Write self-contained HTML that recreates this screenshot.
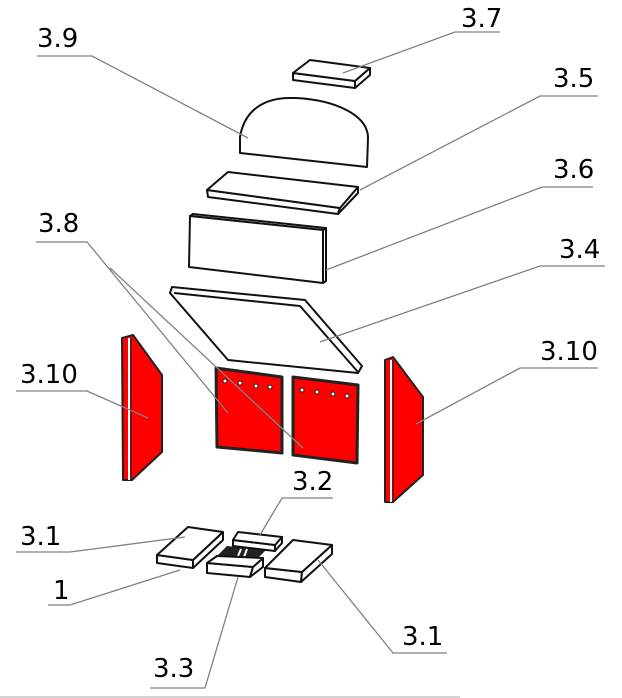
<!DOCTYPE html>
<html><head><meta charset="utf-8"><style>
html,body{margin:0;padding:0;background:#fff;}
svg{display:block;}
text{font-family:"DejaVu Sans","Liberation Sans",sans-serif;font-size:26px;fill:#000;}
.l{stroke:#808080;stroke-width:1.3;fill:none;}
.s{stroke:#111;stroke-width:2;fill:#fff;stroke-linejoin:round;}
.r{stroke:#222;stroke-width:2;fill:#f00;stroke-linejoin:round;}
</style></head><body>
<svg width="622" height="698" viewBox="0 0 622 698" xmlns="http://www.w3.org/2000/svg">
<polygon class="s" points="293,73 355,81 355,88 293,80"/>
<polygon class="s" points="370,68 370,75 355,88 355,81"/>
<polygon class="s" points="310,60 370,68 355,81 293,73"/>
<path class="s" d="M240,153 L240,137 C244,112 262,98 290,98 L296,98 C335,100 368,115 368,138 L367,167 Z"/>
<polygon class="s" points="207,190 340,208 338,214 208,197"/>
<polygon class="s" points="358,187 358,193 338,214 340,208"/>
<polygon class="s" points="228,172 358,187 340,208 207,190"/>
<polygon class="s" points="190,216 193,214 326,228 323,230"/>
<polygon class="s" points="323,230 326,228 326,281 323,283"/>
<polygon class="s" points="190,216 323,230 323,283 189,267"/>
<polygon class="s" points="172,287 305,300 362,366 358,373 228,360 170,293"/>
<polyline class="s" style="fill:none" points="174,293 300,306 358,372"/>
<polygon class="r" points="122,338 133,335 162,375 162,452 132,480 123,480"/>
<line x1="129" y1="338" x2="129" y2="480" stroke="#fff" stroke-width="2"/>
<line x1="131" y1="338" x2="131" y2="480" stroke="#222" stroke-width="1.2"/>
<polygon class="r" points="216,368 282,377 282,453 217,447" style="stroke-width:3"/>
<polygon class="r" points="293,377 358,385 357,463 293,455" style="stroke-width:3"/>
<g fill="#fff" stroke="#222" stroke-width="1">
<circle cx="225" cy="381" r="2"/><circle cx="240" cy="383" r="2"/><circle cx="256" cy="386" r="2"/><circle cx="270" cy="387" r="2"/>
<circle cx="302" cy="390" r="2"/><circle cx="317" cy="392" r="2"/><circle cx="333" cy="394" r="2"/><circle cx="347" cy="396" r="2"/>
</g>
<polygon class="r" points="385,360 393,357 423,397 423,475 393,502 385,502"/>
<line x1="391" y1="360" x2="391" y2="502" stroke="#fff" stroke-width="2"/>
<line x1="393" y1="360" x2="393" y2="502" stroke="#222" stroke-width="1.2"/>
<polygon class="s" points="157,555 193,560 193,568 157,563"/>
<polygon class="s" points="223,532 223,540 193,568 193,560"/>
<polygon class="s" points="188,527 223,532 193,560 157,555"/>
<polygon points="227,546 266,550 257,559 217,556" fill="#222"/>
<line x1="241" y1="549" x2="238" y2="556" stroke="#fff" stroke-width="2"/>
<line x1="247" y1="549" x2="244" y2="557" stroke="#fff" stroke-width="2"/>
<polygon class="s" points="233,540 275,545 275,551 233,546"/>
<polygon class="s" points="282,537 282,543 275,551 275,545"/>
<polygon class="s" points="238,532 282,537 275,545 233,540"/>
<polygon class="s" points="207,563 253,567 250,577 207,573"/>
<polygon class="s" points="263,558 263,567 250,577 253,567"/>
<polygon class="s" points="217,556 263,558 253,567 207,563"/>
<polygon class="s" points="265,568 302,572 301,582 265,577"/>
<polygon class="s" points="332,545 332,554 301,582 302,572"/>
<polygon class="s" points="293,540 332,545 302,572 265,568"/>
<polyline class="l" points="500,32 455,32 343,73"/>
<polyline class="l" points="37,56 92,56 248,138"/>
<polyline class="l" points="598,96 540,96 360,190"/>
<polyline class="l" points="593,187 542,187 326,270"/>
<polyline class="l" points="36,242 87,242 228,413"/>
<line class="l" x1="110" y1="268" x2="303" y2="448"/>
<polyline class="l" points="605,266 540,266 320,342"/>
<polyline class="l" points="16,391 87,391 148,418"/>
<polyline class="l" points="598,368 520,368 416,424"/>
<polyline class="l" points="333,498 282,498 260,535"/>
<polyline class="l" points="16,552 70,552 185,537"/>
<polyline class="l" points="48,605 70,605 180,570"/>
<polyline class="l" points="150,688 205,688 238,577"/>
<polyline class="l" points="447,653 393,653 318,560"/>
<line x1="0" y1="697" x2="460" y2="697" stroke="#aaa" stroke-width="1"/>
<text x="461" y="27">3.7</text>
<text x="37" y="47">3.9</text>
<text x="553" y="87">3.5</text>
<text x="553" y="178">3.6</text>
<text x="38" y="232">3.8</text>
<text x="559" y="258">3.4</text>
<text x="20" y="383">3.10</text>
<text x="540" y="360">3.10</text>
<text x="292" y="490">3.2</text>
<text x="20" y="545">3.1</text>
<text x="53" y="599">1</text>
<text x="153" y="677">3.3</text>
<text x="402" y="645">3.1</text>
</svg>
</body></html>
